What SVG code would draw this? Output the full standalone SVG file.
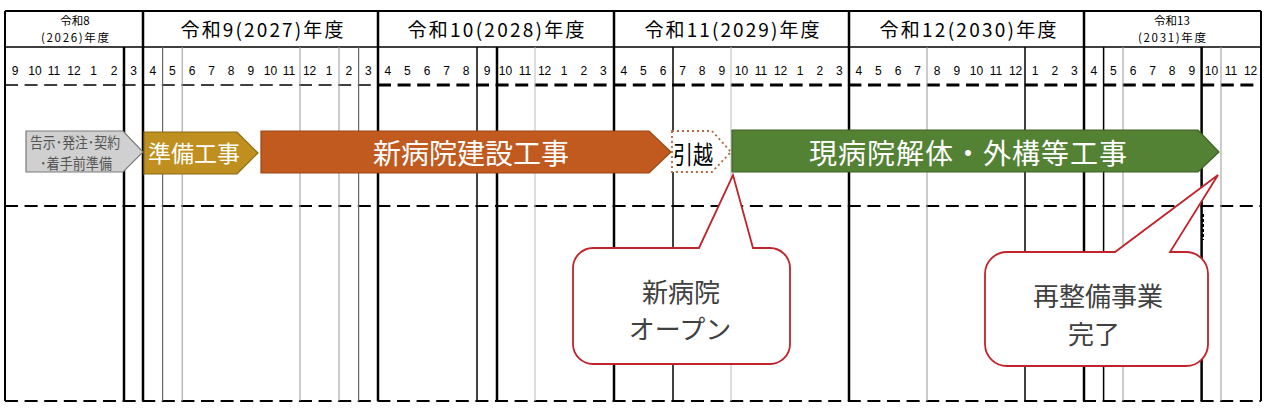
<svg xmlns="http://www.w3.org/2000/svg" width="1271" height="411" viewBox="0 0 1271 411">
<style>
.jp{font-family:"Noto Sans CJK JP","Noto Sans",sans-serif;}
.mo{font-family:"Liberation Sans","Noto Sans CJK JP",sans-serif;font-size:12px;fill:#000;text-anchor:middle;}
.yr{font-size:19px;fill:#000;text-anchor:middle;}
.ys{font-size:11.5px;fill:#000;text-anchor:middle;}
.thick{stroke:#000;stroke-width:2.5;}
.blk{stroke:#000;stroke-width:1.5;}
.dg{stroke:#666;stroke-width:1.2;}
.mg{stroke:#999;stroke-width:1;}
.lg{stroke:#bbb;stroke-width:1;}
.dash{stroke:#000;stroke-dasharray:13 6.6;}
.bar{font-size:28px;fill:#fff;text-anchor:middle;}
.cl{fill:#fff;stroke:#c0232b;stroke-width:1.8;}
.ct{font-size:26px;fill:#404040;text-anchor:middle;}
</style>
<rect x="0" y="0" width="1271" height="411" fill="#fff"/>
<g id="grid">
<line x1="5" y1="11" x2="1261" y2="11" stroke="#000" stroke-width="2"/>
<line x1="5" y1="47" x2="1261" y2="47" stroke="#000" stroke-width="1.5"/>
<line x1="5" y1="85" x2="378" y2="85" class="dash" stroke-width="1.5"/>
<line x1="378" y1="85" x2="1261" y2="85" class="dash" stroke-width="3"/>
<line x1="5" y1="206" x2="1261" y2="206" class="dash" stroke-width="2"/>
<line x1="5" y1="401" x2="1261" y2="401" class="dash" stroke-width="2"/>
<line x1="124" y1="47" x2="124" y2="401" class="thick"/>
<line x1="162.6" y1="47" x2="162.6" y2="401" class="dg"/>
<line x1="182.2" y1="47" x2="182.2" y2="401" class="mg"/>
<line x1="300" y1="47" x2="300" y2="401" class="mg"/>
<line x1="339" y1="47" x2="339" y2="401" class="mg"/>
<line x1="358.6" y1="47" x2="358.6" y2="401" class="dg"/>
<line x1="477" y1="47" x2="477" y2="401" class="blk"/>
<line x1="497" y1="47" x2="497" y2="401" class="thick"/>
<line x1="535" y1="47" x2="535" y2="401" class="lg"/>
<line x1="673" y1="47" x2="673" y2="401" class="blk"/>
<line x1="731" y1="47" x2="731" y2="401" class="lg"/>
<line x1="927" y1="47" x2="927" y2="401" class="mg"/>
<line x1="1025" y1="47" x2="1025" y2="401" class="blk"/>
<line x1="1103.6" y1="47" x2="1103.6" y2="401" class="blk"/>
<line x1="1123" y1="47" x2="1123" y2="401" class="mg"/>
<line x1="1201.6" y1="47" x2="1201.6" y2="401" class="thick"/>
<line x1="1221" y1="47" x2="1221" y2="401" class="mg"/>
<line x1="1202.5" y1="214" x2="1202.5" y2="240" stroke="#000" stroke-width="3" stroke-dasharray="3 2"/>
<line x1="5" y1="11" x2="5" y2="401" stroke="#000" stroke-width="2"/>
<line x1="143" y1="11" x2="143" y2="401" class="thick"/>
<line x1="378" y1="11" x2="378" y2="401" class="thick"/>
<line x1="614" y1="11" x2="614" y2="401" class="thick"/>
<line x1="849" y1="11" x2="849" y2="401" class="thick"/>
<line x1="1084" y1="11" x2="1084" y2="401" class="thick"/>
<line x1="1261" y1="11" x2="1261" y2="401" stroke="#000" stroke-width="2"/>
</g>
<g id="years">
<text class="ys jp" x="75" y="24.5">令和8</text>
<text class="ys jp" x="75" y="42" textLength="68" lengthAdjust="spacing">(2026)年度</text>
<text class="yr jp" x="262" y="37" textLength="163" lengthAdjust="spacing">令和9(2027)年度</text>
<text class="yr jp" x="496" y="37" textLength="177" lengthAdjust="spacing">令和10(2028)年度</text>
<text class="yr jp" x="732" y="37" textLength="175" lengthAdjust="spacing">令和11(2029)年度</text>
<text class="yr jp" x="968" y="37" textLength="177" lengthAdjust="spacing">令和12(2030)年度</text>
<text class="ys jp" x="1172" y="24.5">令和13</text>
<text class="ys jp" x="1172" y="42" textLength="68" lengthAdjust="spacing">(2031)年度</text>
</g>
<g id="months">
<text class="mo" x="15" y="75">9</text><text class="mo" x="35" y="75">10</text><text class="mo" x="54" y="75">11</text><text class="mo" x="74" y="75">12</text><text class="mo" x="93.5" y="75">1</text><text class="mo" x="114" y="75">2</text><text class="mo" x="133.5" y="75">3</text>
<text class="mo" x="152.8" y="75">4</text><text class="mo" x="172.4" y="75">5</text><text class="mo" x="192" y="75">6</text><text class="mo" x="211.6" y="75">7</text><text class="mo" x="231.2" y="75">8</text><text class="mo" x="250.8" y="75">9</text><text class="mo" x="270.4" y="75">10</text><text class="mo" x="289" y="75">11</text><text class="mo" x="309.6" y="75">12</text><text class="mo" x="329.2" y="75">1</text><text class="mo" x="348.8" y="75">2</text><text class="mo" x="368.4" y="75">3</text>
<text class="mo" x="387.8" y="75">4</text><text class="mo" x="407.4" y="75">5</text><text class="mo" x="427" y="75">6</text><text class="mo" x="446.6" y="75">7</text><text class="mo" x="466.2" y="75">8</text><text class="mo" x="487" y="75">9</text><text class="mo" x="505.4" y="75">10</text><text class="mo" x="525" y="75">11</text><text class="mo" x="544.6" y="75">12</text><text class="mo" x="564.2" y="75">1</text><text class="mo" x="583.8" y="75">2</text><text class="mo" x="603.4" y="75">3</text>
<text class="mo" x="623.8" y="75">4</text><text class="mo" x="643.4" y="75">5</text><text class="mo" x="663" y="75">6</text><text class="mo" x="682.6" y="75">7</text><text class="mo" x="702.2" y="75">8</text><text class="mo" x="721.8" y="75">9</text><text class="mo" x="741.4" y="75">10</text><text class="mo" x="761" y="75">11</text><text class="mo" x="780.6" y="75">12</text><text class="mo" x="800.2" y="75">1</text><text class="mo" x="819.8" y="75">2</text><text class="mo" x="839.4" y="75">3</text>
<text class="mo" x="858.8" y="75">4</text><text class="mo" x="878.4" y="75">5</text><text class="mo" x="898" y="75">6</text><text class="mo" x="917.6" y="75">7</text><text class="mo" x="937.2" y="75">8</text><text class="mo" x="956.8" y="75">9</text><text class="mo" x="976.4" y="75">10</text><text class="mo" x="996" y="75">11</text><text class="mo" x="1015.6" y="75">12</text><text class="mo" x="1035.2" y="75">1</text><text class="mo" x="1054.8" y="75">2</text><text class="mo" x="1074.4" y="75">3</text>
<text class="mo" x="1093.8" y="75">4</text><text class="mo" x="1113.4" y="75">5</text><text class="mo" x="1133" y="75">6</text><text class="mo" x="1152.6" y="75">7</text><text class="mo" x="1172.2" y="75">8</text><text class="mo" x="1191.8" y="75">9</text><text class="mo" x="1211.4" y="75">10</text><text class="mo" x="1231" y="75">11</text><text class="mo" x="1250.6" y="75">12</text>
</g>
<g id="prep-before">
<path d="M26 131 L123 131 L143 152 L123 172 L26 172 Z" fill="#d0d0d0" stroke="#7a7a7a" stroke-width="1.2"/>
<text class="jp" x="75" y="148" font-size="15" fill="#555" text-anchor="middle" textLength="90" lengthAdjust="spacingAndGlyphs">告示･発注･契約</text>
<text class="jp" x="76" y="169" font-size="15" fill="#555" text-anchor="middle" textLength="72" lengthAdjust="spacingAndGlyphs">･着手前準備</text>
</g>
<g id="prep-work">
<path d="M144 132 L237 132 L258 153 L237 174 L144 174 Z" fill="#bf901f" stroke="#8c6a12" stroke-width="1.2"/>
<text class="jp" x="194" y="162" font-size="23" fill="#fff" text-anchor="middle">準備工事</text>
</g>
<g id="construction">
<path d="M261 131 L649 131 L671 152 L649 173 L261 173 Z" fill="#c05a1f" stroke="#9a4716" stroke-width="1.2"/>
<text class="bar jp" x="471" y="164">新病院建設工事</text>
</g>
<g id="moving">
<path d="M672 131 L712 131 L731 152 L712 172 L672 172 Z" fill="#fff" stroke="#b0683e" stroke-width="1.8" stroke-dasharray="2 3"/>
<text class="jp" x="693" y="164" font-size="25" fill="#000" text-anchor="middle" textLength="40" lengthAdjust="spacingAndGlyphs">引越</text>
</g>
<g id="demolition">
<path d="M732 130 L1198 130 L1219 152 L1198 172 L732 172 Z" fill="#548235" stroke="#3d6126" stroke-width="1.2"/>
<text class="bar jp" x="968" y="164" textLength="318" lengthAdjust="spacing">現病院解体・外構等工事</text>
</g>
<g id="connectors">
</g>
<g id="callout-open">
<path class="cl" d="M593 248 L699 248 L733 175 L753 248 L770 248 A20 20 0 0 1 790 268 L790 344 A20 20 0 0 1 770 364 L593 364 A20 20 0 0 1 573 344 L573 268 A20 20 0 0 1 593 248 Z"/>
<text class="ct jp" x="681" y="302">新病院</text>
<text class="ct jp" x="680" y="339">オープン</text>
</g>
<g id="callout-done">
<path class="cl" d="M1007 252 L1115 252 L1218 175 L1170 252 L1186 252 A22 22 0 0 1 1208 274 L1208 344 A22 22 0 0 1 1186 366 L1007 366 A22 22 0 0 1 985 344 L985 274 A22 22 0 0 1 1007 252 Z"/>
<text class="ct jp" x="1098" y="306">再整備事業</text>
<text class="ct jp" x="1094" y="344">完了</text>
</g>
</svg>
